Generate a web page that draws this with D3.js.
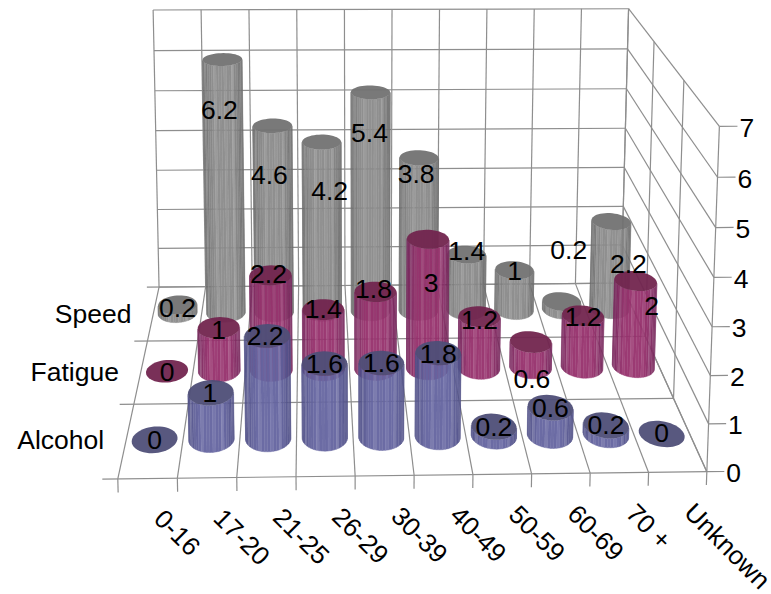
<!DOCTYPE html>
<html>
	<head>
		<meta charset="utf-8">
		<title>3D cylinders</title>
		<style type="text/css">
			body{ margin: 0; background: #fff; }
			svg{ display: block; }
			text{ font-family: "Liberation Sans", Arial, sans-serif; fill: #000; font-size: 26.5px; }
			.grid{ stroke: #8e8e8e; stroke-width: 1.2; fill: none; }
		</style>
	</head>
	<body>
		<div id="svgCon"></div>
		<script src="https://d3js.org/d3.v7.min.js"></script>
		<script>
		let categories=["0-16","17-20","21-25","26-29","30-39","40-49","50-59","60-69","70 +","Unknown"]
		let seriesNames=["Alcohol","Fatigue","Speed"] // front to back
		let alcohol=[0,1,2.2,1.6,1.6,1.8,0.2,0.6,0.2,0]
		let fatigue=[0,1,2.2,1.4,1.8,3,1.2,0.6,1.2,2]
		let speed=[0.2,6.2,4.6,4.2,5.4,3.8,1.4,1,0.2,2.2]
		let yTicks=[0,1,2,3,4,5,6,7]

		// hand placed data labels, px away from the middle of the cylinder top
		let alcoholNudge=[[0,0],[-1,0],[-2,0],[0,0],[0,0],[0,1],[0,0],[0,0],[0,-1],[0,-1]]
		let fatigueNudge=[[0,0],[0,2],[-2,-2],[0,-1],[-2,-3],[3,43],[0,3],[1,37],[0,1],[16,25]]
		let speedNudge=[[0,3],[-3,50],[-3,49],[8,48],[-1,40],[-3,16],[0,-4],[0,0],[7,-52],[17,42]]

		let colors={
			Alcohol:{side:"#6464a0",dark:"#4c4c84",top:"#4f4f78"},
			Fatigue:{side:"#96306c",dark:"#74245a",top:"#72254f"},
			Speed:{side:"#8a8a8a",dark:"#6a6a6a",top:"#727272"}
		}
		let rows=[
			{name:"Speed",values:speed,nudge:speedNudge},
			{name:"Fatigue",values:fatigue,nudge:fatigueNudge},
			{name:"Alcohol",values:alcohol,nudge:alcoholNudge}
		]

		let w=771, h=594
		let svg=d3.select("#svgCon").append("svg").attr("width",w).attr("height",h)

		// box corners on the picture (x along, z depth, y up, all 0..1)
		let anchors=[
			[0,0,0,118,479],[1,0,0,707,472],[0,1,0,159,287],[1,1,0,621,283],
			[1,0,1,719,126],[1,1,1,629,9],[0,1,1,153,10]
		]
		function solveCamera(pts){
			let A=[],b=[]
			pts.forEach(function(p){
				A.push([p[0],p[1],p[2],1,0,0,0,0,-p[3]*p[0],-p[3]*p[1],-p[3]*p[2]]); b.push(p[3])
				A.push([0,0,0,0,p[0],p[1],p[2],1,-p[4]*p[0],-p[4]*p[1],-p[4]*p[2]]); b.push(p[4])
			})
			let n=11, M=[]
			for(let i=0;i<n;i++){
				M.push([])
				for(let j=0;j<n;j++) M[i].push(d3.sum(A,function(r){ return r[i]*r[j] }))
				M[i].push(d3.sum(A,function(r,k){ return r[i]*b[k] }))
			}
			for(let i=0;i<n;i++){
				let best=i
				for(let k=i+1;k<n;k++) if(Math.abs(M[k][i])>Math.abs(M[best][i])) best=k
				let t=M[i]; M[i]=M[best]; M[best]=t
				for(let k=0;k<n;k++){
					if(k==i) continue
					let f=M[k][i]/M[i][i]
					for(let j=i;j<=n;j++) M[k][j]-=f*M[i][j]
				}
			}
			return M.map(function(r,i){ return r[n]/r[i] })
		}
		let cam=solveCamera(anchors)
		function project(x,z,y){
			let d=cam[8]*x+cam[9]*z+cam[10]*y+1
			return [(cam[0]*x+cam[1]*z+cam[2]*y+cam[3])/d,(cam[4]*x+cam[5]*z+cam[6]*y+cam[7])/d]
		}

		let xScale=d3.scaleBand().domain(categories).range([0,1])
		let zScale=d3.scaleBand().domain(seriesNames).range([0,1])
		let yScale=d3.scaleLinear().domain([0,7]).range([0,1])

		let line=d3.line()
		let grid=svg.append("g").attr("class","grid")
		function seg(a,b){
			grid.append("path").attr("d",line([project(a[0],a[1],a[2]),project(b[0],b[1],b[2])]))
		}
		let xLines=d3.range(categories.length+1).map(function(i){ return i*xScale.step() })
		let zLines=d3.range(seriesNames.length+1).map(function(i){ return i*zScale.step() })

		xLines.forEach(function(x){
			seg([x,1,0],[x,1,1])           // back wall
			seg([x,0,0],[x,1,0])           // floor
			seg([x,0,-0.04],[x,0,0])       // tick
		})
		zLines.forEach(function(z){
			seg([-0.026,z,0],[1,z,0])      // floor + tick
			seg([1,z,0],[1,z,1])           // side wall
		})
		yTicks.forEach(function(t){
			let y=yScale(t)
			seg([0,1,y],[1,1,y])
			seg([1,1,y],[1,0,y])
			seg([1,0,y],[1.03,0,y])
		})

		// one cylinder: side facets, then the lid
		let facets=48
		let stripes=[0,0.16,0,0,0.3,0,0.1,0,0,0.22,0,0.05]
		function drawCylinder(g,cx,cz,top,c){
			let ru=xScale.bandwidth()*0.4, rz=zScale.bandwidth()*0.18
			let ring=function(y){
				return d3.range(facets).map(function(i){
					let a=i/facets*2*Math.PI
					return project(cx+ru*Math.cos(a),cz+rz*Math.sin(a),y)
				})
			}
			let lo=ring(0), hi=ring(top)
			if(top>0){
				let area=function(i){
					let j=(i+1)%facets
					return d3.polygonArea([lo[i],lo[j],hi[j],hi[i]])
				}
				let frontSign=Math.sign(area(Math.round(facets*0.75)))
				// light on the left and middle, falling off to the right
				let shade=d3.scaleLinear().domain([-1,-0.5,0.5,1]).range([c.dark,c.side,c.side,c.dark])
				d3.range(facets).forEach(function(i){
					if(Math.sign(area(i))!=frontSign) return
					let j=(i+1)%facets
					let mid=(lo[i][0]+lo[j][0])/2
					let ext=d3.extent(lo,function(p){ return p[0] })
					let pos=(mid-(ext[0]+ext[1])/2)/((ext[1]-ext[0])/2)
					let col=d3.interpolateRgb(shade(pos),"#fff")(stripes[i%stripes.length]*0.5)
					g.append("path")
						.attr("d",line([lo[i],lo[j],hi[j],hi[i]])+"Z")
						.attr("fill",col)
						.attr("stroke",col)
						.attr("stroke-width",0.4)
				})
			}
			g.append("path").attr("d",line(hi)+"Z").attr("fill",c.top)
		}

		let bars=svg.append("g")
		rows.forEach(function(row){
			row.values.forEach(function(v,i){
				let cx=xScale(categories[i])+xScale.bandwidth()/2
				let cz=zScale(row.name)+zScale.bandwidth()/2
				let g=bars.append("g").attr("opacity",0.95)
				drawCylinder(g,cx,cz,yScale(v),colors[row.name])
			})
		})

		// data labels go over every cylinder
		rows.forEach(function(row){
			row.values.forEach(function(v,i){
				let cx=xScale(categories[i])+xScale.bandwidth()/2
				let cz=zScale(row.name)+zScale.bandwidth()/2
				let p=project(cx,cz,yScale(v))
				svg.append("text")
					.text(v)
					.attr("x",p[0]+row.nudge[i][0])
					.attr("y",p[1]+row.nudge[i][1])
					.attr("dy","0.36em")
					.attr("text-anchor","middle")
			})
		})

		// axis labels
		yTicks.forEach(function(t){
			let p=project(1.03,0,yScale(t))
			svg.append("text").text(t)
				.attr("x",p[0]+2).attr("y",p[1]+1).attr("dy","0.36em")
		})
		seriesNames.forEach(function(name){
			let p=project(0,zScale(name)+zScale.bandwidth()/2,0)
			svg.append("text").text(name)
				.attr("x",p[0]-22).attr("y",p[1]).attr("dy","0.36em")
				.attr("text-anchor","end")
		})
		categories.forEach(function(name){
			let p=project(xScale(name)+xScale.bandwidth()/2,0,0)
			svg.append("text").text(name)
				.attr("transform","translate("+(p[0]+5)+","+(p[1]+42)+") rotate(45)")
				.style("font-size","26px")
		})
		</script>
	</body>
</html>
